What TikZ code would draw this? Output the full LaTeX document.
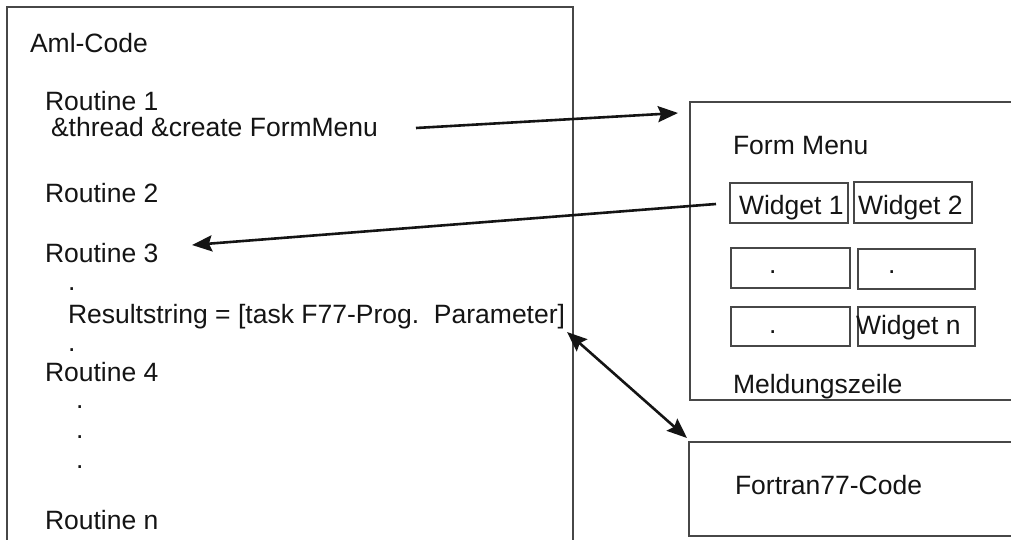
\documentclass[tikz,border=0pt]{standalone}
\usepackage{fontspec}
\setmainfont{Liberation Sans}
\usetikzlibrary{arrows.meta}
\begin{document}
\begin{tikzpicture}[x=1pt,y=-1pt,
  txt/.style={anchor=base west,inner sep=0pt,outer sep=0pt,text=black!92,font=\fontsize{26.5}{26.5}\selectfont},
  frame/.style={draw=black!72,line width=1.3pt},
  wbox/.style={draw=black!72,line width=1.1pt},
  conn/.style={draw=black!92,line width=2.6pt,-{Stealth[length=20pt,width=16pt,inset=3pt]}},
  dconn/.style={draw=black!92,line width=2.6pt,{Stealth[length=20pt,width=16pt,inset=3pt]}-{Stealth[length=20pt,width=16pt,inset=3pt]}}]
\useasboundingbox (0,0) rectangle (1011,540);
% frames
\draw[frame] (7,541) -- (7,7) -- (573,7) -- (573,541);
\draw[frame] (1012,102) -- (690,102) -- (690,400) -- (1012,400);
\draw[frame] (1012,442) -- (689,442) -- (689,536) -- (1012,536);
% left texts
\node[txt] (aml) at (30,53) {Aml-Code};
\node[txt] (r1) at (45,111) {Routine 1};
\node[txt] (thr) at (51,137) {\&thread \&create FormMenu};
\node[txt] (r2) at (45,202) {Routine 2};
\node[txt] (r3) at (45,262) {Routine 3};
\node[txt] (d1) at (68,290) {.};
\node[txt] (res) at (68,323) {Resultstring = [task F77-Prog.\ \ Parameter]};
\node[txt] (d2) at (68,351) {.};
\node[txt] (r4) at (45,381) {Routine 4};
\node[txt] (d3) at (76,408) {.};
\node[txt] (d4) at (76,438) {.};
\node[txt] (d5) at (76,468) {.};
\node[txt] (rn) at (45,529) {Routine n};
% form menu
\node[txt] (fm) at (733,155) {Form Menu};
\draw[wbox] (730,183) rectangle (848,223);
\draw[wbox] (854,182) rectangle (972,223);
\draw[wbox] (731,248) rectangle (850,288);
\draw[wbox] (858,249) rectangle (975,289);
\draw[wbox] (731,307) rectangle (850,346);
\draw[wbox] (858,307) rectangle (975,346);
\node[txt] (w1) at (739,214) {Widget 1};
\node[txt] (w2) at (858,214) {Widget 2};
\node[txt] (wd1) at (769,273) {.};
\node[txt] (wd2) at (888,273) {.};
\node[txt] (wd3) at (769,333) {.};
\node[txt] (wn) at (856,334) {Widget n};
\node[txt] (mz) at (733,393) {Meldungszeile};
\node[txt] (f77) at (735,494) {Fortran77-Code};
% connectors
\coordinate (a1s) at (416,128);
\coordinate (a1e) at (678,113);
\coordinate (a2s) at (716,204);
\coordinate (a2e) at (192,245);
\coordinate (a3s) at (567,332);
\coordinate (a3e) at (687,438);
\draw[conn] (a1s) -- (a1e);
\draw[conn] (a2s) -- (a2e);
\draw[dconn] (a3s) -- (a3e);
\end{tikzpicture}
\end{document}
